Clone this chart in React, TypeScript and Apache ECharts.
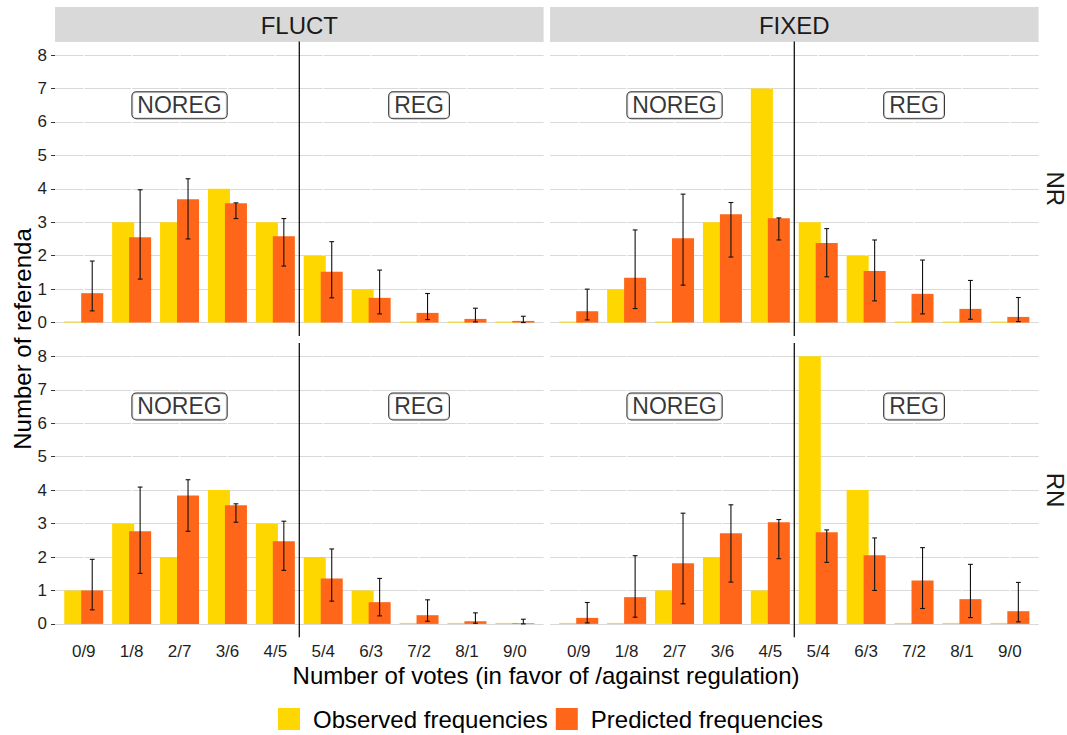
import React, { useEffect, useRef } from 'react';
import * as echarts from 'echarts';

const categories = ['0/9', '1/8', '2/7', '3/6', '4/5', '5/4', '6/3', '7/2', '8/1', '9/0'];
const columnNames = ['FLUCT', 'FIXED'];
const rowNames = ['NR', 'RN'];
const groupLabels = ['NOREG', 'REG'];
const groupLabelAt = ['2/7', '7/2'];
const groupLabelY = [6.5, 6.5];
const dividerAfter = '4/5';
const seriesNames = ['Observed frequencies', 'Predicted frequencies'];

const fluctNR_obs = [0, 3, 3, 4, 3, 2, 1, 0, 0, 0];
const fluctNR_pred = [0.88, 2.55, 3.69, 3.57, 2.58, 1.52, 0.74, 0.29, 0.11, 0.05];
const fluctNR_lo = [0.35, 1.30, 2.50, 3.11, 1.69, 0.74, 0.26, 0.09, 0.02, 0.0];
const fluctNR_hi = [1.84, 3.97, 4.30, 3.58, 3.11, 2.42, 1.57, 0.87, 0.43, 0.19];

const fixedNR_obs = [0, 1, 0, 3, 7, 3, 2, 0, 0, 0];
const fixedNR_pred = [0.34, 1.34, 2.52, 3.24, 3.12, 2.38, 1.54, 0.86, 0.41, 0.17];
const fixedNR_lo = [0.08, 0.42, 1.12, 1.96, 2.47, 1.37, 0.65, 0.26, 0.10, 0.03];
const fixedNR_hi = [1.00, 2.77, 3.84, 3.59, 3.13, 2.81, 2.47, 1.87, 1.26, 0.75];

const fluctRN_obs = [1, 3, 2, 4, 3, 2, 1, 0, 0, 0];
const fluctRN_pred = [1.00, 2.77, 3.84, 3.55, 2.47, 1.36, 0.65, 0.26, 0.08, 0.02];
const fluctRN_lo = [0.42, 1.51, 2.77, 3.04, 1.60, 0.68, 0.24, 0.08, 0.02, 0.0];
const fluctRN_hi = [1.93, 4.09, 4.31, 3.59, 3.07, 2.24, 1.36, 0.72, 0.33, 0.14];

const fixedRN_obs = [0, 0, 1, 2, 1, 8, 4, 0, 0, 0];
const fixedRN_pred = [0.18, 0.80, 1.81, 2.71, 3.04, 2.74, 2.05, 1.30, 0.74, 0.38];
const fixedRN_lo = [0.03, 0.20, 0.60, 1.25, 1.95, 1.84, 1.00, 0.46, 0.19, 0.06];
const fixedRN_hi = [0.64, 2.04, 3.31, 3.56, 3.12, 2.81, 2.57, 2.28, 1.78, 1.24];

const panels = [
  { col: 0, row: 0, obs: fluctNR_obs, pred: fluctNR_pred, lo: fluctNR_lo, hi: fluctNR_hi },
  { col: 1, row: 0, obs: fixedNR_obs, pred: fixedNR_pred, lo: fixedNR_lo, hi: fixedNR_hi },
  { col: 0, row: 1, obs: fluctRN_obs, pred: fluctRN_pred, lo: fluctRN_lo, hi: fluctRN_hi },
  { col: 1, row: 1, obs: fixedRN_obs, pred: fixedRN_pred, lo: fixedRN_lo, hi: fixedRN_hi },
];

const OBS_COLOR = '#FFD700';
const PRED_COLOR = '#FF6619';
const FONT = '"Liberation Sans", Arial, Helvetica, sans-serif';
const BAR_W = 0.46;
const BAR_GAP = -0.23;

export default function App() {
  const ref = useRef<HTMLDivElement>(null);
  useEffect(() => {
    const chart = echarts.init(ref.current as HTMLDivElement, null, { renderer: 'svg' });
    const panelLeft = [55, 550];
    const panelW = 488.6;
    const unit = panelW / 10.2;
    const inset = unit * 0.1;
    const rowTop = [55, 356.3];
    const rowH = 267.6;
    const yExp = 0.4;

    const grid: any[] = [];
    const xAxis: any[] = [];
    const yAxis: any[] = [];
    const series: any[] = [];

    panels.forEach((p) => {
      grid.push({ left: panelLeft[p.col], top: rowTop[p.row], width: panelW, height: rowH });
      xAxis.push({ type: 'value', gridIndex: grid.length - 1, min: 0, max: 1, show: false });
      yAxis.push({
        type: 'value', gridIndex: grid.length - 1, min: 0, max: 8, interval: 1,
        axisLine: { show: false },
        axisTick: { show: p.col === 0, length: 4, lineStyle: { color: '#333', width: 1 } },
        axisLabel: { show: p.col === 0, fontSize: 17, color: '#1f1f1f', margin: 8, fontFamily: FONT },
        splitLine: { show: true, lineStyle: { color: '#d9d9d9', width: 1.1 } },
      });
    });

    panels.forEach((p) => {
      const gi = grid.length;
      grid.push({ left: panelLeft[p.col] + inset, top: rowTop[p.row], width: panelW - 2 * inset, height: rowH });
      xAxis.push({
        type: 'category', gridIndex: gi, data: categories,
        axisLine: { show: false }, axisTick: { show: false }, splitLine: { show: false },
        axisLabel: { show: p.row === 1, interval: 0, fontSize: 17, color: '#1f1f1f', margin: 19, fontFamily: FONT },
      });
      yAxis.push({ type: 'value', gridIndex: gi, min: 0, max: 8, interval: 1, show: false, splitLine: { show: false } });

      const common = { xAxisIndex: gi, yAxisIndex: gi };
      series.push({
        ...common, type: 'custom', z: 1, silent: true,
        data: categories.map((_, i) => [i]),
        renderItem: (params: any, api: any) => {
          const a = api.coord([api.value(0), 0]);
          const b = api.coord([api.value(0), 8]);
          return { type: 'line', shape: { x1: a[0], y1: a[1], x2: b[0], y2: b[1] }, style: { stroke: '#ffffff', lineWidth: 1.3 } };
        },
      });
      series.push({
        ...common, type: 'bar', name: seriesNames[0], data: p.obs, z: 2,
        barWidth: (BAR_W * 100) + '%', barGap: (BAR_GAP * 100) + '%', barMinHeight: 1,
        itemStyle: { color: OBS_COLOR },
      });
      series.push({
        ...common, type: 'bar', name: seriesNames[1], data: p.pred, z: 2,
        barWidth: (BAR_W * 100) + '%', barGap: (BAR_GAP * 100) + '%',
        itemStyle: { color: PRED_COLOR },
      });
      series.push({
        ...common, type: 'custom', z: 4, silent: true,
        data: p.lo.map((l, i) => [i, l, p.hi[i]]),
        encode: { x: 0, y: [1, 2] },
        renderItem: (params: any, api: any) => {
          const i = api.value(0);
          const band = api.size([1, 0])[0];
          const off = (band * BAR_W * (1 + BAR_GAP)) / 2;
          const lo = api.coord([i, api.value(1)]);
          const hi = api.coord([i, api.value(2)]);
          const x = lo[0] + off;
          const cw = 2.4;
          const st = { stroke: '#111', lineWidth: 1.1 };
          return {
            type: 'group',
            children: [
              { type: 'line', shape: { x1: x, y1: lo[1], x2: x, y2: hi[1] }, style: st },
              { type: 'line', shape: { x1: x - cw, y1: lo[1], x2: x + cw, y2: lo[1] }, style: st },
              { type: 'line', shape: { x1: x - cw, y1: hi[1], x2: x + cw, y2: hi[1] }, style: st },
            ],
          };
        },
      });
      series.push({
        ...common, type: 'custom', z: 4, silent: true,
        data: [[categories.indexOf(dividerAfter)]],
        renderItem: (params: any, api: any) => {
          const i = api.value(0);
          const band = api.size([1, 0])[0];
          const a = api.coord([i, 8 + yExp]);
          const b = api.coord([i, -yExp]);
          const x = a[0] + band / 2;
          return { type: 'line', shape: { x1: x, y1: a[1], x2: x, y2: b[1] }, style: { stroke: '#111', lineWidth: 1.3 } };
        },
      });
      series.push({
        ...common, type: 'scatter', z: 5, silent: true,
        symbol: 'rect', symbolSize: 1,
        itemStyle: { color: 'rgba(0,0,0,0)' },
        data: groupLabels.map((g, j) => [groupLabelAt[j], groupLabelY[j], g]),
        label: {
          show: true, position: 'inside', formatter: (q: any) => q.value[2],
          fontSize: 23, color: '#000', fontFamily: FONT,
          backgroundColor: '#fff', borderColor: '#000', borderWidth: 1, borderRadius: 4,
          padding: [2, 5, 1, 5],
        },
      });
    });

    const graphic: any[] = [];
    columnNames.forEach((c, ci) => {
      graphic.push({ type: 'rect', left: panelLeft[ci], top: 7, shape: { width: panelW, height: 35 }, style: { fill: '#d9d9d9' }, silent: true });
      graphic.push({
        type: 'text', x: panelLeft[ci] + panelW / 2, y: 25, silent: true,
        style: { text: c, fontSize: 24, fill: '#1a1a1a', fontFamily: FONT, textAlign: 'center', textVerticalAlign: 'middle' },
      });
    });
    rowNames.forEach((r, ri) => {
      const cy = rowTop[ri] + rowH / 2;
      graphic.push({
        type: 'text', x: 1055, y: cy, rotation: -Math.PI / 2, silent: true,
        style: { text: r, fontSize: 24, fill: '#1a1a1a', fontFamily: FONT, textAlign: 'center', textVerticalAlign: 'middle' },
      });
    });
    graphic.push({
      type: 'text', x: 22, y: 339, rotation: Math.PI / 2, silent: true,
      style: { text: 'Number of referenda', fontSize: 24, fill: '#000', fontFamily: FONT, textAlign: 'center', textVerticalAlign: 'middle' },
    });
    graphic.push({
      type: 'text', x: 546, y: 675, silent: true,
      style: { text: 'Number of votes (in favor of /against regulation)', fontSize: 24, fill: '#000', fontFamily: FONT, textAlign: 'center', textVerticalAlign: 'middle' },
    });

    chart.setOption({
      animation: false,
      backgroundColor: '#fff',
      textStyle: { fontFamily: FONT },
      grid, xAxis, yAxis, series, graphic,
      legend: {
        data: seriesNames, left: 278, top: 707, icon: 'rect', padding: 0,
        itemWidth: 22, itemHeight: 22, itemGap: 8,
        textStyle: { fontSize: 24, color: '#000', fontFamily: FONT, padding: [0, 0, 0, 8] },
      },
    });
    return () => chart.dispose();
  }, []);
  return <div ref={ref} style={{ position: 'fixed', left: 0, top: 0, width: 1067, height: 735 }} />;
}
